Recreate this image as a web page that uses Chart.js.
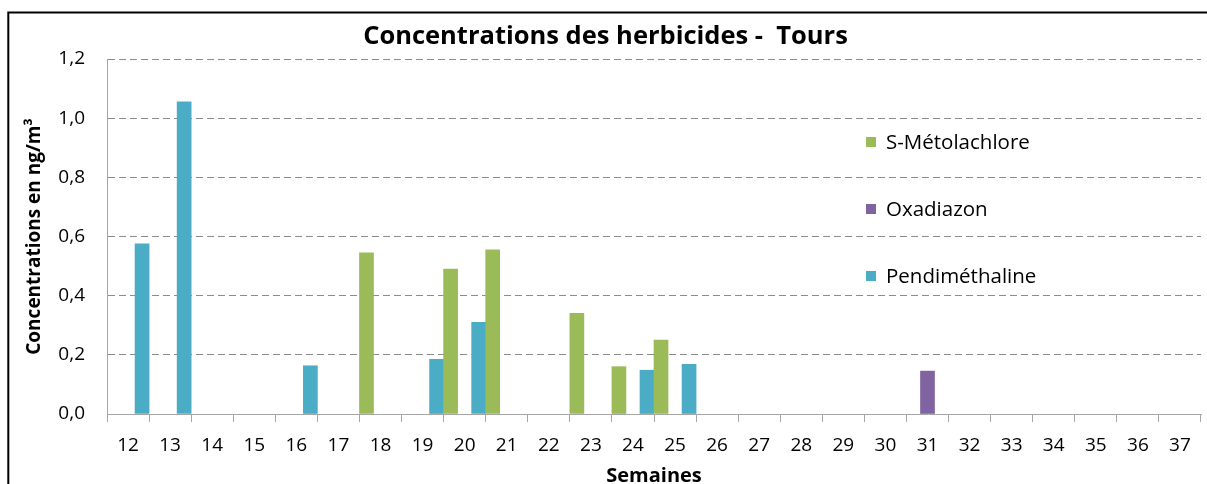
<!DOCTYPE html>
<html>
<head>
<meta charset="utf-8">
<script src="https://cdn.jsdelivr.net/npm/chart.js@4.4.1/dist/chart.umd.min.js"></script>
<style>
  body { margin: 0; background: #fff; }
  canvas { display: block; }
</style>
</head>
<body>
<canvas id="myChart" width="1207" height="484"></canvas>
<script>
const weeks = ['12', '13', '14', '15', '16', '17', '18', '19', '20', '21', '22', '23', '24',
               '25', '26', '27', '28', '29', '30', '31', '32', '33', '34', '35', '36', '37'];

const sMetolachlore = [null, null, null, null, null, null, 0.545, null, 0.49, 0.555, null, 0.34, 0.16,
                       0.25, null, null, null, null, null, null, null, null, null, null, null, null];
const oxadiazon = [null, null, null, null, null, null, null, null, null, null, null, null, null,
                   null, null, null, null, null, null, 0.145, null, null, null, null, null, null];
const pendimethaline = [0.575, 1.055, null, null, 0.163, null, null, 0.185, 0.31, null, null, null, 0.148,
                        0.168, null, null, null, null, null, null, null, null, null, null, null, null];

const yTickLabels = ['0,0', '0,2', '0,4', '0,6', '0,8', '1,0', '1,2'];

const FONT = '"Open Sans", "Liberation Sans", sans-serif';

// outer frame of the excel chart
const framePlugin = {
    id: 'frame',
    beforeDraw(chart) {
        const ctx = chart.ctx;
        ctx.save();
        ctx.fillStyle = '#fff';
        ctx.fillRect(0, 0, chart.width, chart.height);
        ctx.strokeStyle = '#000';
        ctx.lineWidth = 2;
        ctx.strokeRect(8.3, 12.5, chart.width + 50, chart.height + 50);
        ctx.restore();
    }
};

// legend sits inside the plot area, on the right
const insideLegend = {
    id: 'insideLegend',
    afterDraw(chart) {
        const ctx = chart.ctx;
        ctx.save();
        ctx.font = '20.5px ' + FONT;
        ctx.textBaseline = 'middle';
        chart.data.datasets.forEach((ds, i) => {
            const y = 142 + i * 67;
            ctx.fillStyle = ds.backgroundColor;
            ctx.fillRect(866, y - 5, 10, 10);
            ctx.fillStyle = '#000';
            ctx.fillText(ds.label, 886, y + 1);
        });
        ctx.restore();
    }
};

new Chart(document.getElementById('myChart').getContext('2d'), {
    type: 'bar',
    data: {
        labels: weeks,
        datasets: [
            { label: 'S-Métolachlore', data: sMetolachlore, backgroundColor: '#9BBB59' },
            { label: 'Oxadiazon', data: oxadiazon, backgroundColor: '#8064A2' },
            { label: 'Pendiméthaline', data: pendimethaline, backgroundColor: '#4BACC6' }
        ]
    },
    options: {
        responsive: false,
        animation: false,
        layout: { padding: { left: 10, right: 6, top: 0, bottom: 0 } },
        datasets: { bar: { categoryPercentage: 1, barPercentage: 1 } },
        plugins: {
            legend: { display: false },
            tooltip: { enabled: false },
            title: {
                display: true,
                text: 'Concentrations des herbicides -  Tours',
                color: '#000',
                font: { family: FONT, size: 25.5, weight: 'bold', lineHeight: 1.1 },
                padding: { top: 23, bottom: 8 }
            }
        },
        scales: {
            x: {
                afterFit(scale) { scale.height = 70; },
                grid: { display: true, drawOnChartArea: false, drawTicks: true, tickLength: 8, color: '#a6a6a6' },
                border: { color: '#a6a6a6', width: 1 },
                ticks: { color: '#000', font: { family: FONT, size: 19 }, padding: 12, autoSkip: false, maxRotation: 0 },
                title: {
                    display: true,
                    text: 'Semaines',
                    color: '#000',
                    font: { family: FONT, size: 20, weight: 'bold', lineHeight: 0.8 },
                    padding: { top: 0, bottom: 0 }
                }
            },
            y: {
                min: 0,
                max: 1.2,
                afterFit(scale) { scale.width = 97; },
                grid: {
                    drawTicks: false,
                    lineWidth: 1,
                    color: (c) => (c.tick && c.tick.value === 0 ? 'rgba(0,0,0,0)' : '#8c8c8c')
                },
                border: { color: '#a6a6a6', width: 1, dash: [7, 4] },
                ticks: {
                    stepSize: 0.2,
                    padding: 22,
                    color: '#000',
                    font: { family: FONT, size: 19 },
                    callback: (value, index) => yTickLabels[index]
                },
                title: {
                    display: true,
                    text: 'Concentrations en ng/m³',
                    color: '#000',
                    font: { family: FONT, size: 19, weight: 'bold', lineHeight: 1.2 },
                    padding: { top: 13, bottom: 0 }
                }
            }
        }
    },
    plugins: [framePlugin, insideLegend]
});
</script>
</body>
</html>
